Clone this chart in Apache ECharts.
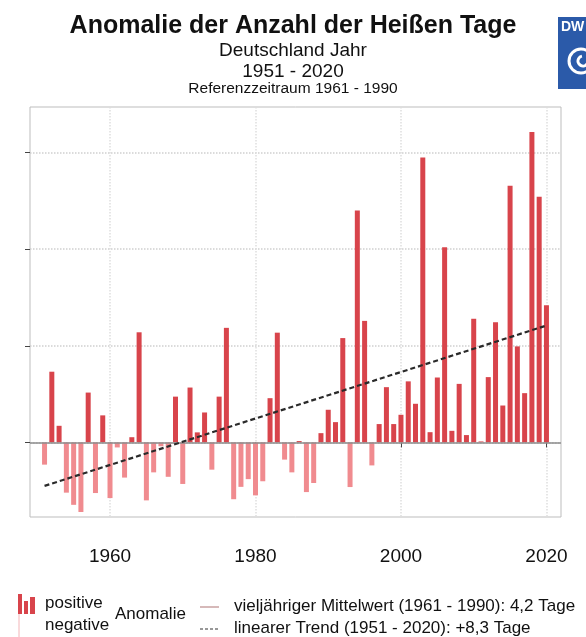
<!DOCTYPE html>
<html>
<head>
<meta charset="utf-8">
<title>Anomalie der Anzahl der Heißen Tage</title>
<script src="https://cdn.jsdelivr.net/npm/echarts@6/dist/echarts.min.js"></script>
<style>
  html, body { margin: 0; padding: 0; background: #fff; }
  #chart { width: 586px; height: 637px; }
</style>
</head>
<body>
<div id="chart"></div>
<script>
  // Jahre 1951 - 2020
  let years = [
    1951, 1952, 1953, 1954, 1955, 1956, 1957, 1958, 1959, 1960,
    1961, 1962, 1963, 1964, 1965, 1966, 1967, 1968, 1969, 1970,
    1971, 1972, 1973, 1974, 1975, 1976, 1977, 1978, 1979, 1980,
    1981, 1982, 1983, 1984, 1985, 1986, 1987, 1988, 1989, 1990,
    1991, 1992, 1993, 1994, 1995, 1996, 1997, 1998, 1999, 2000,
    2001, 2002, 2003, 2004, 2005, 2006, 2007, 2008, 2009, 2010,
    2011, 2012, 2013, 2014, 2015, 2016, 2017, 2018, 2019, 2020
  ]
  // Anomalie der Heißen Tage gegenüber 1961 - 1990 (Tage)
  let anomaly = [
    -1.15, 3.66, 0.86, -2.6, -3.23, -3.6, 2.58, -2.62, 1.4, -2.88,
    -0.26, -1.82, 0.27, 5.7, -3.0, -1.55, -0.2, -1.78, 2.37, -2.15,
    2.84, 0.52, 1.55, -1.41, 2.37, 5.93, -2.94, -2.3, -1.9, -2.74,
    -2.01, 2.29, 5.68, -0.89, -1.55, 0.07, -2.57, -2.1, 0.48, 1.69,
    1.05, 5.4, -2.31, 12.0, 6.29, -1.19, 0.95, 2.86, 0.95, 1.43,
    3.16, 2.0, 14.74, 0.53, 3.36, 10.1, 0.6, 3.03, 0.38, 6.4,
    0.05, 3.38, 6.22, 1.91, 13.29, 4.97, 2.55, 16.07, 12.71, 7.1
  ]
  // linearer Trend: Anfang und Ende
  let trendYears = [1951, 2020]
  let trendValues = [-2.25, 6.05]
  let xTicks = [1960, 1980, 2000, 2020]
  let yTicks = [0, 5, 10, 15]

  let posColor = '#d8444b'
  let negColor = '#f08b8f'
  let font = 'Liberation Sans, Arial, Helvetica, sans-serif'

  let barData = years.map((y, i) => [y, anomaly[i]])
  let trendData = trendYears.map((y, i) => [y, trendValues[i]])

  let chart = echarts.init(document.getElementById('chart'))
  chart.setOption({
    animation: false,
    textStyle: { fontFamily: font },
    title: [
      {
        text: 'Anomalie der Anzahl der Heißen Tage',
        left: 'center',
        top: 9,
        textStyle: { fontSize: 25, fontWeight: 'bold', color: '#111', fontFamily: font }
      },
      {
        text: 'Deutschland Jahr',
        left: 'center',
        top: 36,
        textStyle: { fontSize: 19, fontWeight: 'normal', color: '#111', fontFamily: font }
      },
      {
        text: '1951 - 2020',
        left: 'center',
        top: 57,
        textStyle: { fontSize: 19, fontWeight: 'normal', color: '#111', fontFamily: font }
      },
      {
        text: 'Referenzzeitraum 1961 - 1990',
        left: 'center',
        top: 76,
        textStyle: { fontSize: 15.5, fontWeight: 'normal', color: '#111', fontFamily: font }
      }
    ],
    grid: {
      left: 30,
      right: 25,
      top: 107,
      bottom: 120,
      show: true,
      borderColor: '#bdbdbd',
      borderWidth: 1,
      outerBoundsMode: 'none'
    },
    xAxis: {
      type: 'value',
      min: 1949,
      max: 2022,
      axisLine: { show: false },
      axisTick: {
        show: true,
        customValues: xTicks,
        length: 5,
        lineStyle: { color: '#444', width: 1 }
      },
      axisLabel: {
        show: true,
        customValues: xTicks,
        margin: 30,
        fontSize: 19,
        color: '#111',
        fontFamily: font,
        formatter: v => String(v)
      },
      splitLine: {
        show: true,
        lineStyle: { color: '#dedede', type: 'dotted', width: 1.5 }
      }
    },
    yAxis: {
      type: 'value',
      min: -3.86,
      max: 17.36,
      axisLine: { show: false },
      axisTick: {
        show: true,
        customValues: yTicks,
        length: 5,
        lineStyle: { color: '#444', width: 1 }
      },
      axisLabel: { show: false, customValues: yTicks },
      splitLine: {
        show: true,
        lineStyle: { color: '#cfcfcf', type: 'dotted', width: 1.5 }
      }
    },
    series: [
      {
        name: 'Anomalie',
        type: 'bar',
        barWidth: 5,
        data: barData,
        itemStyle: {
          color: p => p.value[1] >= 0 ? posColor : negColor
        },
        markLine: {
          silent: true,
          symbol: 'none',
          label: { show: false },
          lineStyle: { color: '#8c8c8c', type: 'solid', width: 1.5 },
          data: [{ yAxis: 0 }]
        }
      },
      {
        name: 'Trend',
        type: 'line',
        data: trendData,
        symbol: 'none',
        z: 5,
        lineStyle: { color: '#2a2a2a', width: 2.2, type: [5, 3] }
      }
    ],
    graphic: [
      // DWD Logo
      { type: 'rect', left: 558, top: 17, shape: { width: 40, height: 72 }, style: { fill: '#2b5aa9' } },
      { type: 'text', left: 561, top: 20, style: { text: 'DW', fill: '#fff', font: 'bold 14px ' + font } },
      { type: 'circle', shape: { cx: 581, cy: 61, r: 12 }, style: { fill: 'none', stroke: '#fff', lineWidth: 3 } },
      { type: 'arc', shape: { cx: 583, cy: 61, r: 5, startAngle: 0.5, endAngle: 4.5 }, style: { fill: 'none', stroke: '#fff', lineWidth: 3 } },
      // Legende
      { type: 'line', shape: { x1: 19, y1: 612, x2: 19, y2: 637 }, style: { stroke: '#f3b5b8', lineWidth: 1 } },
      { type: 'rect', shape: { x: 18, y: 594, width: 4, height: 20 }, style: { fill: posColor } },
      { type: 'rect', shape: { x: 24, y: 601, width: 4, height: 13 }, style: { fill: posColor } },
      { type: 'rect', shape: { x: 30, y: 597, width: 5, height: 17 }, style: { fill: posColor } },
      { type: 'text', left: 45, top: 595, style: { text: 'positive', fill: '#111', font: '17px ' + font } },
      { type: 'text', left: 45, top: 617, style: { text: 'negative', fill: '#111', font: '17px ' + font } },
      { type: 'text', left: 115, top: 606, style: { text: 'Anomalie', fill: '#111', font: '17px ' + font } },
      { type: 'line', shape: { x1: 200, y1: 607, x2: 219, y2: 607 }, style: { stroke: '#c8a2a2', lineWidth: 1.5 } },
      { type: 'text', left: 234, top: 598, style: { text: 'vieljähriger Mittelwert (1961 - 1990): 4,2 Tage', fill: '#111', font: '17px ' + font } },
      { type: 'line', shape: { x1: 200, y1: 629, x2: 220, y2: 629 }, style: { stroke: '#333', lineWidth: 1.2, lineDash: [3, 2] } },
      { type: 'text', left: 234, top: 620, style: { text: 'linearer Trend (1951 - 2020): +8,3 Tage', fill: '#111', font: '17px ' + font } }
    ]
  })
</script>
</body>
</html>
